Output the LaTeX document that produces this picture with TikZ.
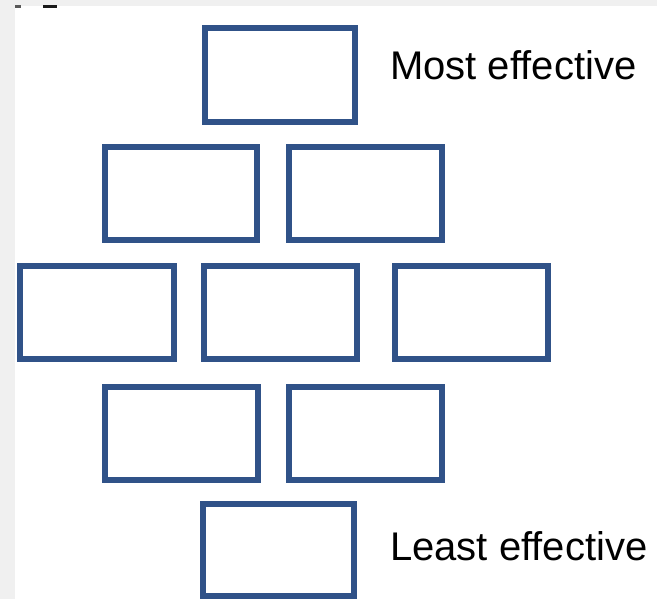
\documentclass[tikz,border=0pt]{standalone}
\usepackage{fontspec}
\setmainfont{Liberation Sans}
\definecolor{boxblue}{RGB}{48,82,136}
\definecolor{edgegray}{RGB}{240,240,240}
\tikzset{
  tier/.style={draw=boxblue, line width=5.6pt, fill=white, rectangle,
    minimum width=152.5pt, minimum height=93.5pt, inner sep=0pt},
  caption/.style={anchor=base west, inner sep=0pt,
    font=\fontsize{40}{48}\selectfont}
}
\begin{document}
\begin{tikzpicture}[x=1pt, y=-1pt]
  % canvas with a grey margin along the top and left
  \useasboundingbox (0,0) rectangle (657,599);
  \fill[white] (0,0) rectangle (657,599);
  \fill[edgegray] (0,0) rectangle (657,6);
  \fill[edgegray] (0,0) rectangle (15,599);
  % clipped fragments in the top-left corner
  \fill[black!65] (15,5.5) rectangle (21,8.5);
  \fill[black!90] (43,5.5) rectangle (57,8.5);

  % diamond of boxes, five tiers
  \node[tier, minimum width=150.5pt, minimum height=94.5pt] (t1) at (280,75) {};

  \node[tier] (t2a) at (181,193.5) {};
  \node[tier] (t2b) at (365.5,193.5) {};

  \node[tier, minimum width=154.5pt] (t3a) at (97,312.5) {};
  \node[tier] (t3b) at (280.5,312.5) {};
  \node[tier] (t3c) at (471.5,312.5) {};

  \node[tier] (t4a) at (181.5,433.5) {};
  \node[tier] (t4b) at (365.5,433.5) {};

  \node[tier, minimum width=151.5pt, minimum height=91.5pt] (t5) at (278.5,550) {};

  % scale labels
  \node[caption] (most) at (390,80) {Most effective};
  \node[caption] (least) at (390,560) {Least effective};
\end{tikzpicture}
\end{document}
